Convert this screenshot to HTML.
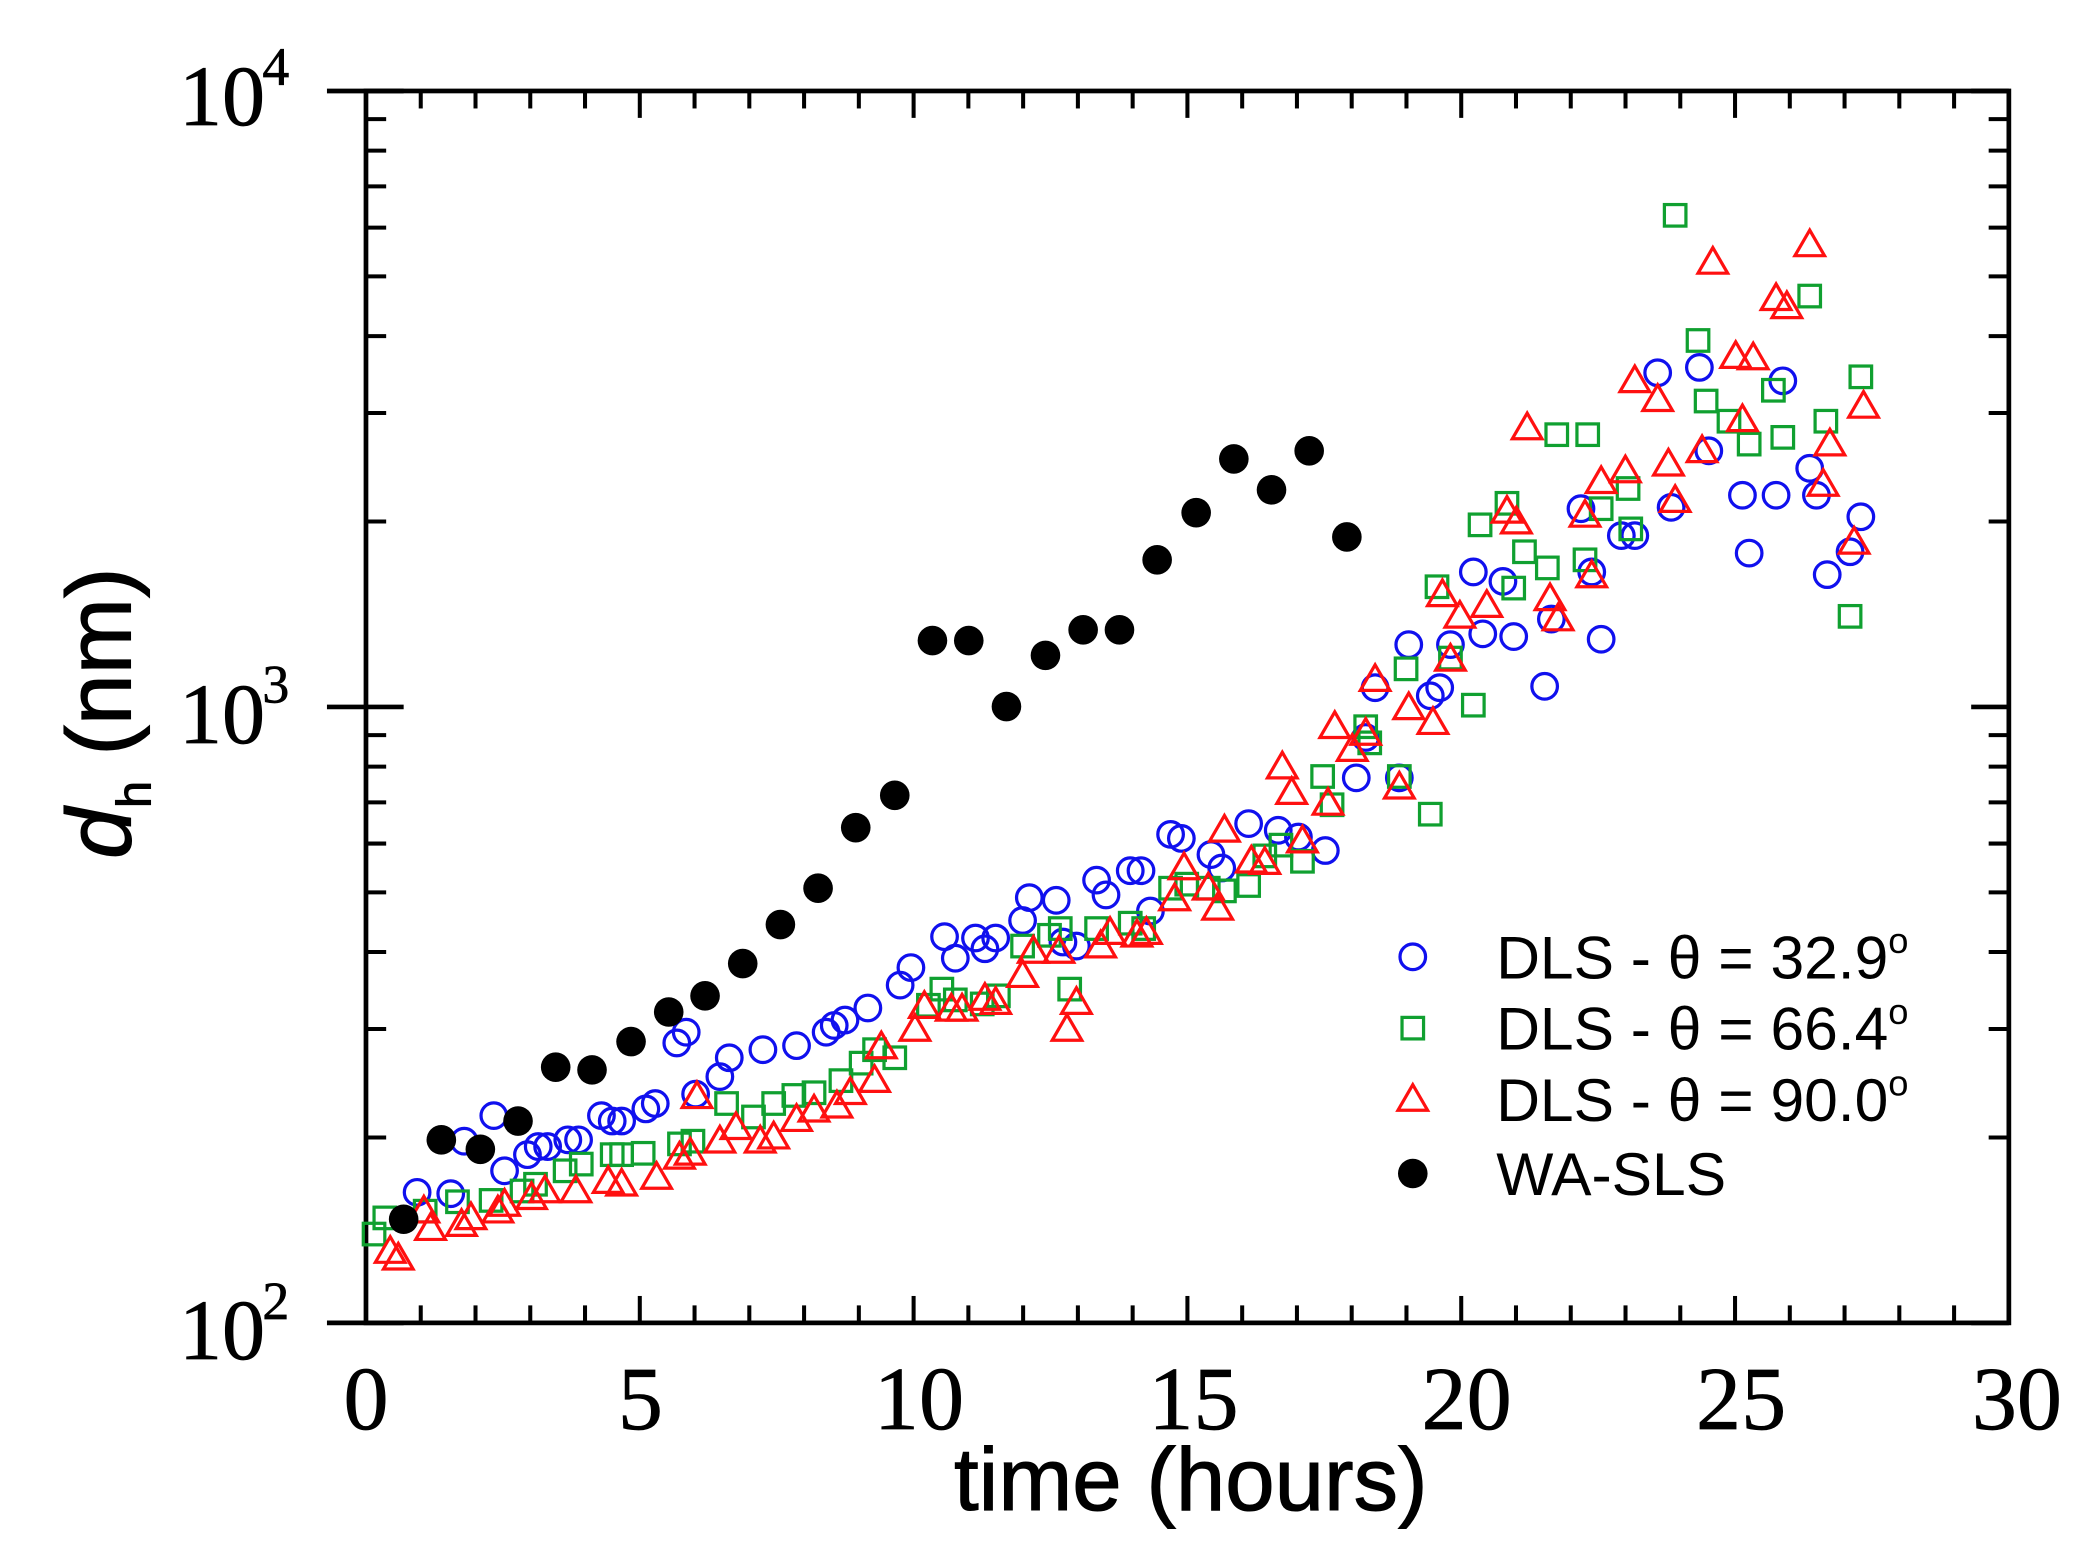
<!DOCTYPE html>
<html><head><meta charset="utf-8"><style>
html,body{margin:0;padding:0;background:#fff;}
svg{display:block;}
</style></head><body>
<svg id="s" width="2099" height="1553" viewBox="0 0 1560 1154" preserveAspectRatio="none" xmlns="http://www.w3.org/2000/svg">
<rect width="1560" height="1154" fill="#fff"/>
<g id="ax" stroke="#000" stroke-width="3.5" fill="none"></g>
<g id="pts"></g>
<g font-family="Liberation Serif, serif" fill="#000" stroke="#000" stroke-width="0.5">
<text x="272" y="1062" font-size="67" text-anchor="middle">0</text>
<text x="476" y="1062" font-size="67" text-anchor="middle">5</text>
<text x="683" y="1062" font-size="67" text-anchor="middle">10</text>
<text x="887" y="1062" font-size="67" text-anchor="middle">15</text>
<text x="1090" y="1062" font-size="67" text-anchor="middle">20</text>
<text x="1294" y="1062" font-size="67" text-anchor="middle">25</text>
<text x="1499" y="1062" font-size="67" text-anchor="middle">30</text>
<text x="133" y="1010" font-size="64">10</text><text x="195" y="980" font-size="40">2</text>
<text x="133" y="552" font-size="64">10</text><text x="195" y="522" font-size="40">3</text>
<text x="133" y="93" font-size="64">10</text><text x="195" y="63" font-size="40">4</text>
</g>
<g font-family="Liberation Sans, Arial, sans-serif" fill="#000">
<text x="885" y="1122" font-size="66" text-anchor="middle" stroke="#000" stroke-width="0.8">time (hours)</text>
<text transform="translate(97,530) rotate(-90)" font-size="68" text-anchor="middle" stroke="#000" stroke-width="0.8"><tspan font-style="italic">d</tspan><tspan font-size="36" dy="15">h</tspan><tspan dy="-15"> (nm)</tspan></text>
<text x="1112" y="727" font-size="45">DLS - θ = 32.9<tspan font-size="27" dy="-19">o</tspan></text>
<text x="1112" y="780" font-size="45">DLS - θ = 66.4<tspan font-size="27" dy="-19">o</tspan></text>
<text x="1112" y="833" font-size="45">DLS - θ = 90.0<tspan font-size="27" dy="-19">o</tspan></text>
<text x="1112" y="888" font-size="45">WA-SLS</text>
</g>
<script>
(function(){
var NS="http://www.w3.org/2000/svg";
var L=272,R=1493,T=67.6,B=983,D=(B-T)/2;
var ax=document.getElementById('ax'),pts=document.getElementById('pts');
function ln(x1,y1,x2,y2,w){var e=document.createElementNS(NS,'line');e.setAttribute('x1',x1);e.setAttribute('y1',y1);e.setAttribute('x2',x2);e.setAttribute('y2',y2);if(w)e.setAttribute('stroke-width',w);ax.appendChild(e);}
var r=document.createElementNS(NS,'rect');r.setAttribute('x',L);r.setAttribute('y',T);r.setAttribute('width',R-L);r.setAttribute('height',B-T);ax.appendChild(r);
for(var i=0;i<=30;i++){var x=L+(R-L)*i/30;var len=(i%5==0)?20:13;if(i>0&&i<30){ln(x,B,x,B-len,3);ln(x,T,x,T+len,3);}}
for(var d=0;d<2;d++){for(var k=2;k<=9;k++){var y=B-D*(d+Math.log10(k));ln(L,y,L+15,y,3);ln(R,y,R-15,y,3);}}
for(var d=0;d<=2;d++){var y=B-D*d;ln(243,y,L+28,y);ln(R-28,y,R,y);}
function C(x,y,c,rr,f){var e=document.createElementNS(NS,'circle');e.setAttribute('cx',x);e.setAttribute('cy',y);e.setAttribute('r',rr);if(f){e.setAttribute('fill',c);}else{e.setAttribute('fill','none');e.setAttribute('stroke',c);e.setAttribute('stroke-width',2.4);}pts.appendChild(e);}
function S(x,y){var e=document.createElementNS(NS,'rect');e.setAttribute('x',x-8);e.setAttribute('y',y-8);e.setAttribute('width',16);e.setAttribute('height',16);e.setAttribute('fill','none');e.setAttribute('stroke','#10a030');e.setAttribute('stroke-width',2.4);pts.appendChild(e);}
function Tr(x,y){var e=document.createElementNS(NS,'polygon');e.setAttribute('points',(x)+','+(y-11)+' '+(x-11)+','+(y+8)+' '+(x+11)+','+(y+8));e.setAttribute('fill','none');e.setAttribute('stroke','#ff1010');e.setAttribute('stroke-width',2.4);pts.appendChild(e);}
var blue=[[310,886],[335,887],[345,848],[367,829],[375,870],[392,858],[400,852],[407,852],[422,847],[430,847],[447,829],[455,833],[462,833],[480,824],[487,820],[503,775],[510,767],[517,813],[535,800],[542,786],[567,780],[592,777],[614,767],[620,762],[628,758],[645,749],[669,732],[677,719],[702,696],[710,712],[725,697],[732,705],[740,697],[760,684],[765,667],[785,669],[790,700],[800,703],[815,654],[822,665],[840,647],[848,647],[855,677],[870,620],[878,623],[900,635],[908,645],[928,612],[950,617],[965,622],[985,632],[1008,578],[1015,548],[1022,511],[1040,578],[1047,479],[1063,517],[1070,511],[1078,479],[1095,425],[1102,471],[1117,432],[1125,473],[1148,510],[1153,460],[1175,378],[1183,425],[1190,475],[1205,398],[1215,398],[1232,277],[1242,377],[1263,273],[1270,335],[1295,368],[1300,411],[1320,368],[1325,283],[1345,348],[1350,368],[1358,427],[1375,410],[1383,384]];
var green=[[278,917],[286,905],[316,900],[340,893],[365,892],[388,885],[398,880],[420,870],[432,865],[455,858],[462,858],[478,857],[505,850],[515,848],[540,820],[560,830],[575,820],[590,814],[605,812],[625,803],[640,790],[650,780],[665,786],[690,747],[700,735],[710,743],[730,746],[742,740],[760,703],[780,695],[788,690],[795,735],[815,690],[840,686],[850,690],[870,660],[882,657],[898,660],[910,662],[928,658],[940,636],[952,628],[968,640],[983,577],[990,598],[1015,540],[1018,552],[1040,577],[1045,497],[1063,605],[1068,436],[1078,489],[1095,524],[1100,390],[1120,374],[1125,437],[1133,410],[1150,422],[1157,323],[1178,416],[1180,323],[1190,378],[1210,363],[1212,393],[1245,160],[1262,253],[1268,298],[1285,313],[1300,330],[1318,290],[1325,325],[1345,220],[1357,313],[1375,458],[1383,280]];
var red=[[290,930],[296,935],[315,900],[320,913],[343,910],[350,905],[370,900],[375,895],[395,890],[405,885],[428,885],[452,878],[462,880],[488,875],[505,860],[513,857],[518,815],[535,848],[547,838],[565,848],[575,845],[592,832],[605,825],[622,822],[632,812],[650,803],[655,778],[680,765],[687,748],[707,750],[715,750],[732,742],[740,745],[760,725],[768,707],[787,707],[793,765],[800,745],[818,703],[825,693],[845,695],[852,693],[873,668],[880,645],[898,660],[905,675],[910,617],[930,640],[940,641],[953,570],[960,589],[968,625],[987,597],[992,540],[1005,557],[1015,545],[1022,505],[1040,585],[1047,526],[1065,537],[1072,442],[1078,490],[1085,458],[1105,450],[1120,380],[1127,388],[1135,318],[1152,445],[1158,460],[1178,383],[1183,428],[1190,358],[1208,350],[1215,283],[1232,297],[1240,345],[1245,372],[1265,335],[1273,195],[1290,265],[1295,312],[1303,266],[1320,222],[1328,228],[1345,182],[1355,360],[1360,330],[1378,403],[1385,302]];
var black=[[300,906],[328,847],[357,854],[385,833],[413,793],[440,795],[469,774],[497,752],[524,740],[552,716],[580,687],[608,660],[636,615],[665,591],[693,476],[720,476],[748,525],[777,487],[805,468],[832,468],[860,416],[889,381],[917,341],[945,364],[973,335],[1001,399]];
blue.forEach(function(p){C(p[0],p[1],'#1010ee',9.5);});
green.forEach(function(p){S(p[0],p[1]);});
red.forEach(function(p){Tr(p[0],p[1]);});
black.forEach(function(p){C(p[0],p[1],'#000',11,true);});
C(1050,711,'#1010ee',9.5);S(1050,764);Tr(1050,817);C(1050,872,'#000',11,true);
})();
</script>
</svg>
</body></html>
